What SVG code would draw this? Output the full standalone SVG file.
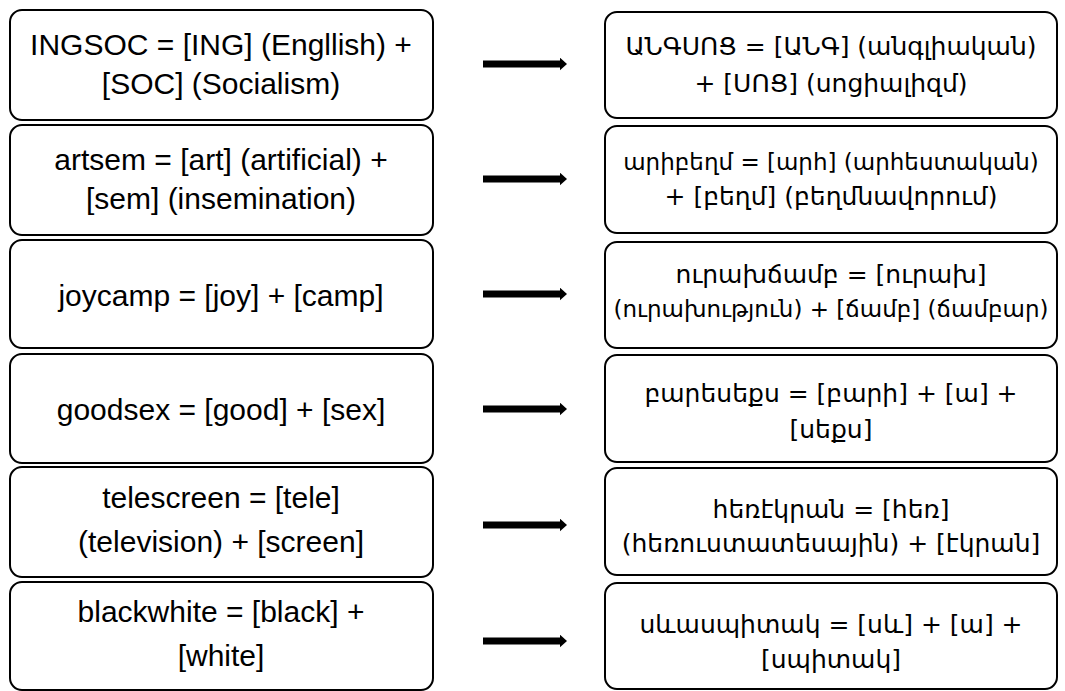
<svg xmlns="http://www.w3.org/2000/svg" width="1065" height="691" viewBox="0 0 1065 691">
<style>
.box{fill:#fff;stroke:#000;stroke-width:2}
.l{font-family:"Liberation Sans",Arial,sans-serif;font-size:30px;fill:#000;text-anchor:middle}
.r{font-family:"DejaVu Sans","Noto Sans",sans-serif;font-size:25px;fill:#000;text-anchor:middle}
.s{font-size:23px}
.arr{stroke:#000;stroke-width:7;fill:none}
</style>
<defs>
<marker id="ah" markerWidth="2" markerHeight="2" refX="0" refY="0.9" orient="auto" markerUnits="strokeWidth">
<path d="M0,0 L1,0.9 L0,1.8 Z" fill="#000"/>
</marker>
</defs>
<rect width="1065" height="691" fill="#fff"/>
<g id="L1"><rect class="box" x="10" y="10" width="423" height="110" rx="12"/><text class="l" x="221" y="55">INGSOC = [ING] (Engllish) +</text><text class="l" x="221" y="94">[SOC] (Socialism)</text></g>
<g id="L2"><rect class="box" x="10" y="125" width="423" height="110" rx="12"/><text class="l" x="221" y="170">artsem = [art] (artificial) +</text><text class="l" x="221" y="209">[sem] (insemination)</text></g>
<g id="L3"><rect class="box" x="10" y="240" width="423" height="108" rx="12"/><text class="l" x="221" y="306">joycamp = [joy] + [camp]</text></g>
<g id="L4"><rect class="box" x="10" y="354" width="423" height="109" rx="12"/><text class="l" x="221" y="420">goodsex = [good] + [sex]</text></g>
<g id="L5"><rect class="box" x="10" y="467" width="423" height="110" rx="12"/><text class="l" x="221" y="508">telescreen = [tele]</text><text class="l" x="221" y="552">(television) + [screen]</text></g>
<g id="L6"><rect class="box" x="10" y="582" width="423" height="108" rx="12"/><text class="l" x="221" y="622">blackwhite = [black] +</text><text class="l" x="221" y="666">[white]</text></g>
<g id="R1"><rect class="box" x="605" y="12" width="452" height="106" rx="12"/><text class="r" x="831" y="55">ԱՆԳՍՈՑ = [ԱՆԳ] (անգլիական)</text><text class="r" x="831" y="92">+ [ՍՈՑ] (սոցիալիզմ)</text></g>
<g id="R2"><rect class="box" x="605" y="126" width="452" height="107" rx="12"/><text class="r s" x="831" y="170">արիբեղմ = [արհ] (արհեստական)</text><text class="r" x="831" y="205">+ [բեղմ] (բեղմնավորում)</text></g>
<g id="R3"><rect class="box" x="605" y="242" width="452" height="106" rx="12"/><text class="r" x="831" y="283">ուրախճամբ = [ուրախ]</text><text class="r s" x="831" y="317">(ուրախություն) + [ճամբ] (ճամբար)</text></g>
<g id="R4"><rect class="box" x="605" y="355" width="452" height="107" rx="12"/><text class="r" x="831" y="402">բարեսեքս = [բարի] + [ա] +</text><text class="r" x="831" y="438">[սեքս]</text></g>
<g id="R5"><rect class="box" x="605" y="468" width="452" height="107" rx="12"/><text class="r" x="831" y="518">հեռէկրան = [հեռ]</text><text class="r" x="831" y="552">(հեռուստատեսային) + [էկրան]</text></g>
<g id="R6"><rect class="box" x="605" y="583" width="452" height="106" rx="12"/><text class="r" x="831" y="633">սևասպիտակ = [սև] + [ա] +</text><text class="r" x="831" y="668">[սպիտակ]</text></g>
<g id="connectors">
<line class="arr" x1="483" y1="64" x2="560" y2="64" marker-end="url(#ah)"/>
<line class="arr" x1="483" y1="179" x2="560" y2="179" marker-end="url(#ah)"/>
<line class="arr" x1="483" y1="294" x2="560" y2="294" marker-end="url(#ah)"/>
<line class="arr" x1="483" y1="409" x2="560" y2="409" marker-end="url(#ah)"/>
<line class="arr" x1="483" y1="525" x2="560" y2="525" marker-end="url(#ah)"/>
<line class="arr" x1="483" y1="641" x2="560" y2="641" marker-end="url(#ah)"/>
</g>
</svg>
